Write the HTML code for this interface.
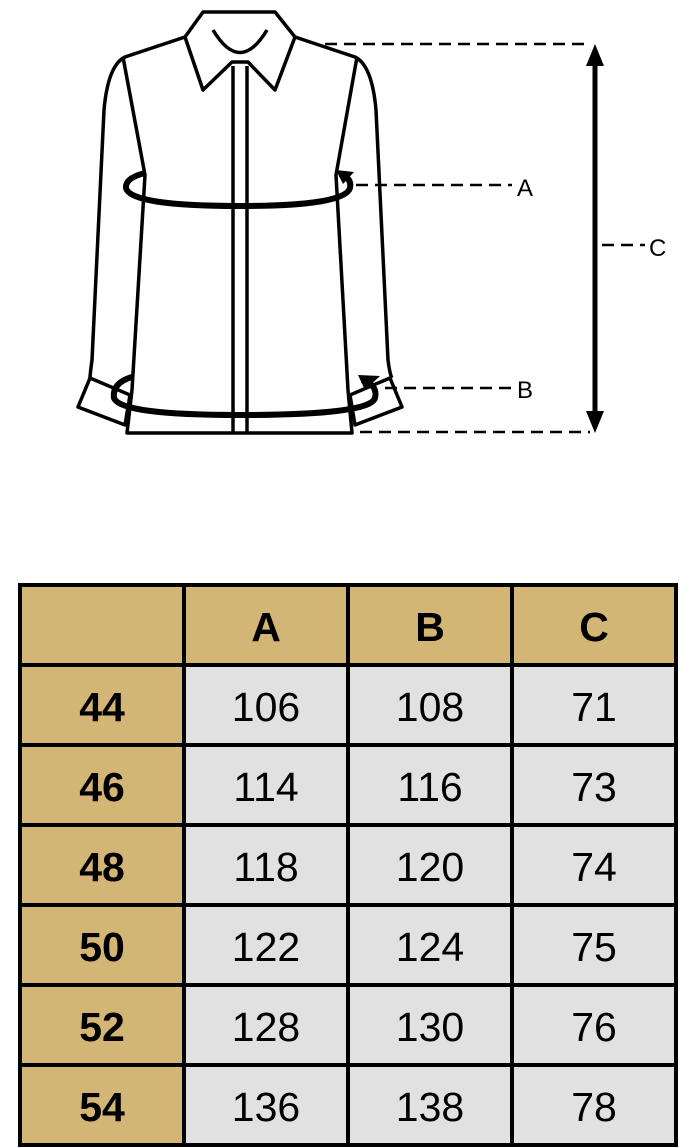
<!DOCTYPE html>
<html><head><meta charset="utf-8"><style>
html,body{margin:0;padding:0;background:#fff;width:695px;height:1148px;overflow:hidden}
svg{position:absolute;left:0;top:0}
table{position:absolute;left:18px;top:583px;border-collapse:collapse;font-family:"Liberation Sans",sans-serif;table-layout:fixed}
td{border:4px solid #000;width:160px;height:72px;box-sizing:content-box;text-align:center;font-size:41px;line-height:72px;padding:0;padding-top:4px;background:#e1e1e1;color:#000}
td.h{background:#d3b575;font-weight:bold}
</style></head><body>
<svg width="695" height="470" viewBox="0 0 695 470">
<g fill="none" stroke="#000" stroke-width="3.5" stroke-linejoin="round">
<path d="M203 12 L275 12 L295 37 L275 90 L248 62 L232 62 L203 90 L185 37 Z"/>
<path d="M213 30 Q240 75 267 30"/>
<path d="M185 37 L125 57 Q108 65 104 110 L92 360 Q90 375 90 378"/>
<path d="M295 37 L355 57 Q372 65 376 110 L388 360 Q390 375 392 378"/>
<path d="M123 57 L145 175 L132 390 L127 433 L352 433 L348 390 L336 175 L357 57"/>
<path d="M78 407 L90 378 L130 395 L125 425 Z"/>
<path d="M402 407 L390 378 L350 395 L355 425 Z"/>
<line x1="233" y1="66" x2="233" y2="433"/><line x1="247" y1="66" x2="247" y2="433"/>
</g>
<g fill="none" stroke="#000" stroke-width="6">
<path d="M145 173 Q125 178 126 188 Q130 206 240 206 Q345 206 350 188 Q352 178 340 174"/>
<path d="M132 377 Q112 383 114 398 Q120 415 240 415 Q370 415 375 398 Q378 385 362 380"/>
</g>
<path d="M336 170 L354 172 L343 184 Z" fill="#000"/>
<path d="M358 375 L380 376 L365 390 Z" fill="#000"/>
<g stroke="#000" stroke-width="2.5" stroke-dasharray="12,7" fill="none">
<line x1="325" y1="44" x2="588" y2="44"/>
<line x1="356" y1="185" x2="512" y2="185"/>
<line x1="385" y1="388" x2="512" y2="388"/>
<line x1="360" y1="432" x2="590" y2="432"/>
<line x1="602" y1="245" x2="645" y2="245"/>
</g>
<line x1="595" y1="60" x2="595" y2="418" stroke="#000" stroke-width="5"/>
<path d="M595 44 L586 66 L604 66 Z M595 433 L586 411 L604 411 Z" fill="#000"/>
<g font-family="Liberation Sans,sans-serif" font-size="24" fill="#000">
<text x="517" y="196">A</text><text x="517" y="398">B</text><text x="649" y="256">C</text>
</g>
</svg>
<table>
<tr><td class="h"></td><td class="h">A</td><td class="h">B</td><td class="h">C</td></tr>
<tr><td class="h">44</td><td>106</td><td>108</td><td>71</td></tr>
<tr><td class="h">46</td><td>114</td><td>116</td><td>73</td></tr>
<tr><td class="h">48</td><td>118</td><td>120</td><td>74</td></tr>
<tr><td class="h">50</td><td>122</td><td>124</td><td>75</td></tr>
<tr><td class="h">52</td><td>128</td><td>130</td><td>76</td></tr>
<tr><td class="h">54</td><td>136</td><td>138</td><td>78</td></tr>
</table>
</body></html>
